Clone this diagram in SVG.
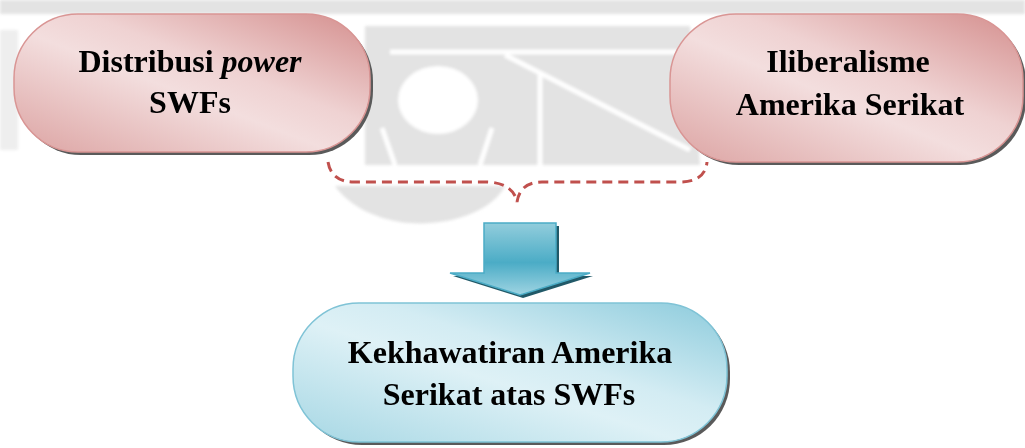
<svg xmlns="http://www.w3.org/2000/svg" width="1025" height="448" viewBox="0 0 1025 448">
<style>
.t{font-family:"Liberation Serif","Times New Roman",serif;font-weight:bold;font-size:32px;fill:#000;text-anchor:middle}
.sh{fill:#5a5a5a}
.wm{fill:#dedede}
.wl{stroke:#fff;stroke-width:5;fill:none}
</style>
<defs>
<filter id="soft" x="-5%" y="-5%" width="110%" height="110%"><feGaussianBlur stdDeviation="1.5"/></filter>
<linearGradient id="pink" x1="0" y1="1" x2="1" y2="0">
<stop offset="0" stop-color="#dca3a2"/>
<stop offset="0.45" stop-color="#f3dede"/>
<stop offset="0.6" stop-color="#efd2d2"/>
<stop offset="1" stop-color="#d48e8d"/>
</linearGradient>
<linearGradient id="blue" x1="0" y1="1" x2="1" y2="0">
<stop offset="0" stop-color="#a6d7e4"/>
<stop offset="0.45" stop-color="#def1f6"/>
<stop offset="0.6" stop-color="#d3ecf3"/>
<stop offset="1" stop-color="#8ccbdc"/>
</linearGradient>
<linearGradient id="arr" x1="0" y1="0" x2="0" y2="1">
<stop offset="0" stop-color="#92cddc"/>
<stop offset="0.55" stop-color="#4bacc6"/>
<stop offset="1" stop-color="#9fd4e2"/>
</linearGradient>
</defs>
<rect width="1025" height="448" fill="#fff"/>
<g id="watermark" filter="url(#soft)" opacity="0.85">
<rect class="wm" x="0" y="0" width="1025" height="14"/>
<rect class="wm" x="0" y="30" width="18" height="120" opacity="0.6"/>
<path class="wm" d="M365 26 L690 26 L700 165 L365 165 Z"/>
<path class="wm" d="M335 186 L505 186 C490 215 440 228 400 222 C365 216 345 200 335 186 Z"/>
<ellipse cx="438" cy="100" rx="40" ry="34" fill="#fff"/>
<path class="wl" d="M382 128 L395 165 M492 128 L480 165 M540 72 L540 165 M505 55 L690 150 M390 52 L690 52"/>
</g>
<g id="connectors">
<path d="M328 162 C330 174 338 182 354 182 L486 182 C504 182 515 190 517 202 C519 190 526 182 542 182 L680 182 C698 182 706 174 707 162" fill="none" stroke="#c0504d" stroke-width="3" stroke-dasharray="10 6"/>
<g id="arrow">
<polygon points="487,226 559,226 559,276 593,276 523,298 453,276 487,276" fill="#215968"/>
<polygon points="484,223 556,223 556,273 590,273 520,295 450,273 484,273" fill="url(#arr)" stroke="#4bacc6" stroke-width="1.5"/>
</g>
</g>
<g id="node-distribusi">
<rect class="sh" x="17" y="17" width="356" height="138" rx="64"/>
<rect x="14" y="14" width="356" height="138" rx="64" fill="url(#pink)" stroke="#d99594" stroke-width="1.5"/>
<text class="t" x="190" y="72">Distribusi <tspan font-style="italic">power</tspan></text>
<text class="t" x="190" y="113">SWFs</text>
</g>
<g id="node-iliberalisme">
<rect class="sh" x="673" y="17" width="353" height="148" rx="66"/>
<rect x="670" y="14" width="353" height="148" rx="66" fill="url(#pink)" stroke="#d99594" stroke-width="1.5"/>
<text class="t" x="848" y="72">Iliberalisme</text>
<text class="t" x="850" y="115">Amerika Serikat</text>
</g>
<g id="node-kekhawatiran">
<rect class="sh" x="296" y="306" width="434" height="139" rx="66"/>
<rect x="293" y="303" width="434" height="139" rx="66" fill="url(#blue)" stroke="#7fc3d6" stroke-width="1.5"/>
<text class="t" x="510" y="363">Kekhawatiran Amerika</text>
<text class="t" x="509" y="405">Serikat atas SWFs</text>
</g>
</svg>
